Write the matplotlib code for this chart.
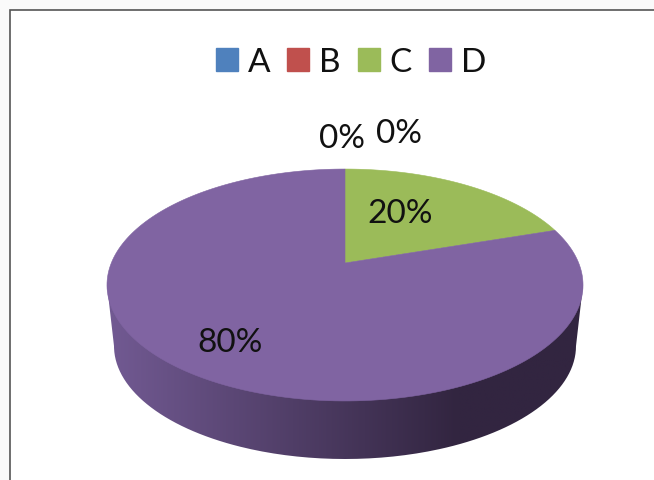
"""Tilted 3D-style pie (Excel look) drawn with a projective mapping of a disc."""

import matplotlib

matplotlib.use("Agg")
import matplotlib.pyplot as plt
import numpy as np
from matplotlib.patches import Patch, PathPatch, Polygon, Rectangle
from matplotlib.path import Path

categories = ["A", "B", "C", "D"]
values = [0, 0, 20, 80]
colors = ["#4f81bd", "#c0504d", "#9bbb59", "#8064a2"]
pct_labels = ["0%", "0%", "20%", "80%"]

FONT = "Lato"
W, H = 654, 481

# Pie geometry in pixels; apex sits above the ellipse centre because of perspective.
CX = 345
APEX_Y = 263
RADIUS = 233.7
PERSP = -0.1897
Y_SCALE = 61.9
# Lower rim of the side wall.
BOTTOM_CY = 346
BOTTOM_RX = 231
BOTTOM_RY = 113


def project(theta):
    """Map clockwise-from-top disc angle to pixel coordinates."""
    u, v = np.sin(theta), -np.cos(theta)
    d = PERSP * v + 1
    return CX + RADIUS * u / d, (Y_SCALE * v + APEX_Y) / d


fig = plt.figure(figsize=(W / 100, H / 100), dpi=100, facecolor="#fafafa")
ax = fig.add_axes([0, 0, 1, 1])
ax.set_xlim(0, W)
ax.set_ylim(H - 1, -1)
ax.axis("off")

# Chart area frame runs off the right and bottom edges.
ax.add_patch(Rectangle((9.5, 10), W, H, fc="white", ec="#555555", lw=1.2))

# Side wall: lower rim joined up to the widest points of the top disc, shaded left to right.
low_t = np.linspace(np.pi / 2, 3 * np.pi / 2, 181)
low_x = CX + BOTTOM_RX * np.sin(low_t)
low_y = BOTTOM_CY - BOTTOM_RY * np.cos(low_t)
wall_x = np.concatenate([low_x, [CX - 238, CX + 238]])
wall_y = np.concatenate([low_y, [285, 285]])
wall_path = Path(np.column_stack([np.r_[wall_x, wall_x[0]], np.r_[wall_y, wall_y[0]]]))
wall_patch = PathPatch(wall_path, fc="none", ec="none")
ax.add_patch(wall_patch)
shade = np.clip((np.linspace(107, 583, 256) - 107) / (458 - 107), 0, 1)
light, dark = np.array([0x72, 0x5a, 0x93]), np.array([0x32, 0x25, 0x40])
grad = (light + (dark - light) * shade[:, None]) / 255
img = ax.imshow(grad[None, :, :], extent=(107, 583, 470, 250), aspect="auto", zorder=1)
img.set_clip_path(wall_patch)
ax.set_xlim(0, W)
ax.set_ylim(H - 1, -1)

# Top face, one wedge per category in order, clockwise from 12 o'clock.
edges = np.cumsum([0] + values) / sum(values) * 2 * np.pi
for start, stop, color in zip(edges[:-1], edges[1:], colors):
    if stop <= start:
        continue
    arc = np.linspace(start, stop, 200)
    xs, ys = project(arc)
    pts = np.column_stack([np.r_[CX, xs], np.r_[APEX_Y, ys]])
    ax.add_patch(Polygon(pts, closed=True, fc=color, ec=color, lw=0.4, zorder=2))

# Data labels placed by hand, as the source chart has them.
label_xy = [(342, 138), (399, 133), (400, 213), (230, 342)]
for (x, y), text in zip(label_xy, pct_labels):
    ax.text(x, y, text, ha="center", va="center", fontsize=24, family=FONT,
            color="#111111", zorder=3)

handles = [Patch(fc=c, ec=c) for c in colors]
ax.legend(
    handles,
    categories,
    loc="center",
    bbox_to_anchor=(351 / W, 1 - 63 / H),
    ncol=4,
    frameon=False,
    prop={"family": FONT, "size": 24},
    handlelength=0.66,
    handleheight=0.68,
    handletextpad=0.3,
    columnspacing=0.5,
    labelcolor="#111111",
)

fig.savefig("out.png", dpi=100, facecolor=fig.get_facecolor())
